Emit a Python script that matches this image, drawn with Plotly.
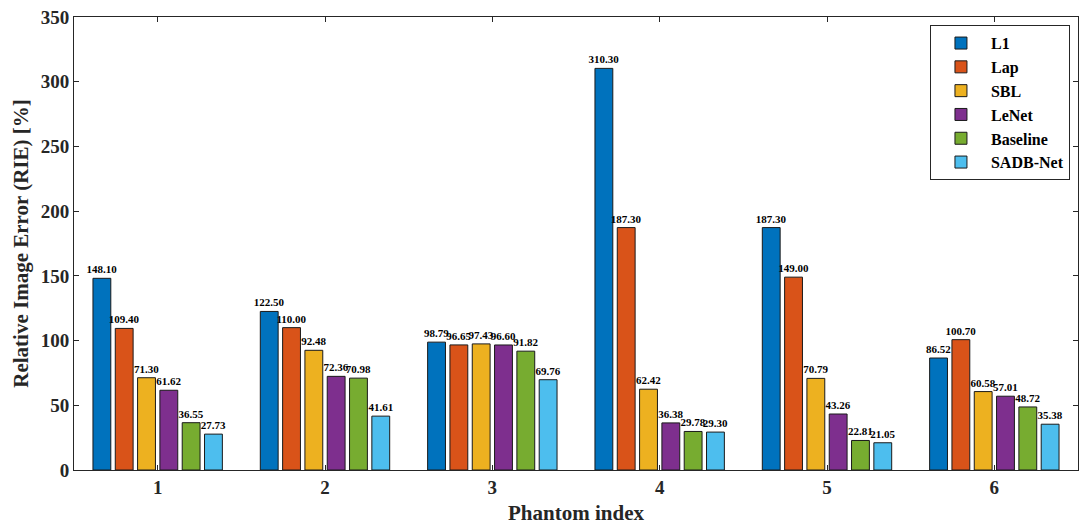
import plotly.graph_objects as go

categories = ["1", "2", "3", "4", "5", "6"]
methods = ["L1", "Lap", "SBL", "LeNet", "Baseline", "SADB-Net"]
L1 = [148.10, 122.50, 98.79, 310.30, 187.30, 86.52]
Lap = [109.40, 110.00, 96.65, 187.30, 149.00, 100.70]
SBL = [71.30, 92.48, 97.43, 62.42, 70.79, 60.58]
LeNet = [61.62, 72.36, 96.60, 36.38, 43.26, 57.01]
Baseline = [36.55, 70.98, 91.82, 29.78, 22.81, 48.72]
SADB = [27.73, 41.61, 69.76, 29.30, 21.05, 35.38]
series = [L1, Lap, SBL, LeNet, Baseline, SADB]
colors = ["#0072BD", "#D95319", "#EDB120", "#7E2F8E", "#77AC30", "#4DBEEE"]

FONT = "Liberation Serif"

fig = go.Figure()
for name, vals, col in zip(methods, series, colors):
    fig.add_trace(go.Bar(
        x=[int(c) for c in categories], y=vals, name=name,
        marker=dict(color=col, line=dict(color="#1a1a1a", width=1)),
        text=[f"{v:.2f}" for v in vals], textposition="outside",
        textfont=dict(family=FONT, size=11, color="black", weight="bold"),
        constraintext="none", cliponaxis=False,
    ))

fig.update_layout(
    width=1086, height=530,
    margin=dict(l=74, r=8, t=17, b=60),
    barmode="group", bargap=0.2, bargroupgap=0.2,
    plot_bgcolor="white", paper_bgcolor="white",
    font=dict(family=FONT, color="#262626"),
    showlegend=True,
    legend=dict(
        x=0.992, y=0.982, xanchor="right", yanchor="top",
        bgcolor="white", bordercolor="#262626", borderwidth=1,
        font=dict(family=FONT, size=16, color="black", weight="bold"),
        tracegroupgap=0, itemwidth=50,
    ),
)
fig.update_xaxes(
    range=[0.5, 6.5], tickmode="array", tickvals=[1, 2, 3, 4, 5, 6], ticktext=categories,
    ticks="inside", ticklen=5, tickcolor="#262626", showline=True, linecolor="#262626",
    linewidth=1, mirror="ticks", showgrid=False, zeroline=False,
    tickfont=dict(family=FONT, size=19, color="#262626", weight="bold"),
    title=dict(text="Phantom index", standoff=8,
               font=dict(family=FONT, size=21, color="#262626", weight="bold")),
)
fig.update_yaxes(
    range=[0, 350], tickmode="array", tickvals=[0, 50, 100, 150, 200, 250, 300, 350],
    ticks="inside", ticklen=5, tickcolor="#262626", showline=True, linecolor="#262626",
    linewidth=1, mirror="ticks", showgrid=False, zeroline=False,
    tickfont=dict(family=FONT, size=19, color="#262626", weight="bold"),
    title=dict(text="Relative Image Error (RIE) [%]", standoff=6,
               font=dict(family=FONT, size=21, color="#262626", weight="bold")),
)

fig.write_html("out.html")
